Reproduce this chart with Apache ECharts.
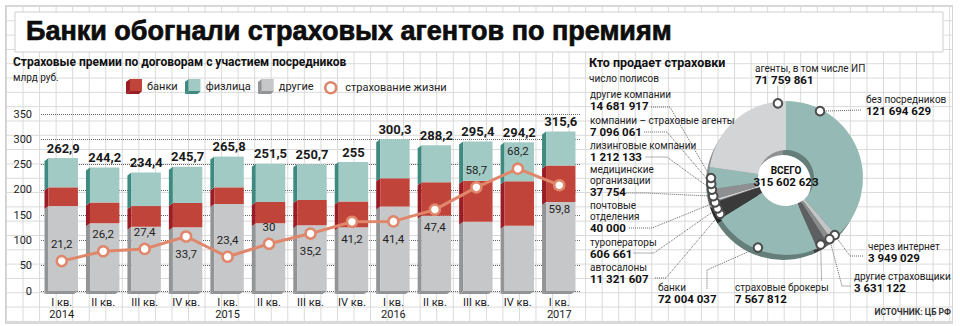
<!DOCTYPE html>
<html>
<head>
<meta charset="utf-8">
<script src="https://cdn.jsdelivr.net/npm/echarts@6/dist/echarts.min.js"></script>
<style>
  html, body { margin: 0; padding: 0; background: #fff; }
  #wrap { position: relative; width: 960px; height: 326px; overflow: hidden; }
  #paper {
    position: absolute; left: 5px; top: 5px; width: 948px; height: 319px;
    box-sizing: border-box;
    border-left: 1px solid #cfcfcf; border-top: 1px solid #d6d6d6;
    border-right: 1px solid #d6d6d6; border-bottom: 3px solid #d9d9d9;
    background-image:
      linear-gradient(to right, #d9d9d9 1px, transparent 1px),
      linear-gradient(to bottom, #d9d9d9 1px, transparent 1px);
    background-size: 16.55px 14.32px;
    background-position: 0 0;
  }
  #chart { position: absolute; left: 0; top: 0; width: 960px; height: 326px; }
</style>
</head>
<body>
<div id="wrap"><div id="paper"></div><div id="chart"></div></div>
<script>
// ---- Premiums by quarter, bn rubles ----
const quarters = ['I', 'II', 'III', 'IV', 'I', 'II', 'III', 'IV', 'I', 'II', 'III', 'IV', 'I'];
const years    = ['2014', '', '', '', '2015', '', '', '', '2016', '', '', '', '2017'];
const others      = [168, 134, 127, 126, 172, 134, 130, 126, 167, 149, 137, 129, 176];            // другие
const banks       = [37, 41, 41, 48, 33, 42, 50, 51, 56, 66, 81, 88, 72];                         // банки
const individuals = [57.9, 69.2, 66.4, 71.7, 60.8, 75.5, 70.7, 78, 77.3, 73.2, 77.4, 77.2, 67.6]; // физлица
const lifeInsurance = [21.2, 26.2, 27.4, 33.7, 23.4, 30, 35.2, 41.2, 41.4, 47.4, 58.7, 68.2, 59.8];

// ---- Who sells policies, number of policies ----
const channelNames = [
  'без посредников', 'через интернет', 'другие страховщики', 'страховые брокеры', 'банки',
  'автосалоны', 'туроператоры', 'почтовые\nотделения', 'медицинские\nорганизации',
  'лизинговые компании', 'компании – страховые агенты', 'другие компании', 'агенты, в том числе ИП'
];
const channelPolicies = [
  121694629, 3949029, 3631122, 7567812, 72004037,
  11321607, 606661, 40000, 37754,
  1212133, 7096061, 14681917, 71759861
];

// ---- styles ----
const FONT = 'Roboto, "Noto Sans", sans-serif';
const LIFE_COLOR = '#e0866a';
const segStyle = {
  'другие':  { front: '#c6c7c9', side: '#929496' },
  'банки':   { front: '#c1443b', side: '#9a1c25' },
  'физлица': { front: '#a2cac5', side: '#3f8a80' }
};
const lifeLabelSide = ['top', 'top', 'top', 'bottom', 'top', 'top', 'bottom', 'bottom', 'bottom', 'bottom', 'top', 'top', 'bottom'];
const sliceColors = [
  '#95b9b4', '#c4c5c6', '#8b8c8d', '#5e5f60', '#95b9b4',
  '#3a3a3a', '#6d6d6d', '#8a8a8a', '#a0a0a0',
  '#d9d9d9', '#8e8f90', '#95b9b4', '#d3d4d6'
];
const PIE_C = [786, 178];
const PIE_R = [28, 77];
// label placement around the donut: text corner, marker angle on the rim, leader bends
const pieLabelSpots = [
  { x: 866, y: 94,  angle: 27,    line: [[862, 110]] },
  { x: 868, y: 241, angle: 139.5, line: [[850, 256], [863, 256]] },
  { x: 854, y: 271, angle: 144.5, line: [[842, 286], [851, 286]] },
  { x: 735, y: 282, angle: 152.5, line: [[821.6, 281]] },
  { x: 658, y: 282, angle: 202,   line: [[707, 270], [707, 289]] },
  { x: 590, y: 262, angle: 241.5, line: [[666, 278], [655, 278]] },
  { x: 590, y: 237, angle: 246,   line: [[654, 253], [633, 253]] },
  { x: 590, y: 200, angle: 251,   line: [[652, 228], [628, 228]] },
  { x: 590, y: 164, angle: 256,   line: [[645, 193], [616, 193]] },
  { x: 590, y: 140, angle: 261,   line: [[667, 157], [645, 157]] },
  { x: 590, y: 115, angle: 265.5, line: [[667, 132], [644, 132]] },
  { x: 590, y: 89,  angle: 270,   line: [[670, 107], [650, 107]] },
  { x: 755, y: 63,  angle: 353.8, line: [[777.7, 86]] }
];

// ---- helpers ----
function fmtDec(v) { return String(Math.round(v * 10) / 10).replace('.', ','); }
function fmtInt(n) { return String(n).replace(/\B(?=(\d{3})+(?!\d))/g, ' '); }
function darken(hex, f) {
  const n = parseInt(hex.slice(1), 16);
  const r = Math.round(((n >> 16) & 255) * f), g = Math.round(((n >> 8) & 255) * f), b = Math.round((n & 255) * f);
  return 'rgb(' + r + ',' + g + ',' + b + ')';
}
function rimPoint(angle) {
  const a = angle * Math.PI / 180, r = PIE_R[1] - 2;
  return [PIE_C[0] + r * Math.sin(a), PIE_C[1] - r * Math.cos(a)];
}
function cubeIcon(front, side) {
  const svg = '<svg xmlns="http://www.w3.org/2000/svg" width="16" height="15" viewBox="0 0 16 15">' +
    '<polygon points="4,0 4,12 0,15 0,3" fill="' + side + '"/>' +
    '<polygon points="4,12 16,12 13,15 0,15" fill="' + side + '"/>' +
    '<rect x="4" y="0" width="12" height="12" fill="' + front + '"/></svg>';
  return 'image://data:image/svg+xml;charset=utf-8,' + encodeURIComponent(svg);
}

const categories = quarters.map((q, i) => q + ' кв.' + (years[i] ? '\n' + years[i] : ''));

// stacked segments: [category, base, top]
const layers = [['другие', others], ['банки', banks], ['физлица', individuals]];
const running = others.map(() => 0);
const segSeries = layers.map(([name, vals], li) => {
  const data = vals.map((v, i) => {
    const base = running[i];
    running[i] = base + v;
    return [i, base, running[i]];
  });
  const st = segStyle[name];
  const isBottom = li === 0, isTop = li === layers.length - 1;
  return {
    name: name,
    type: 'custom',
    itemStyle: { color: st.front },
    encode: { x: 0, y: [1, 2] },
    data: data,
    z: 3,
    renderItem: function (params, api) {
      const ci = api.value(0);
      const top = api.coord([ci, api.value(2)]);
      const base = api.coord([ci, api.value(1)]);
      const band = api.size([1, 0])[0];
      const w = band * 0.71;
      const xl = top[0] - w / 2 + 1.5, xr = xl + w;
      const dx = 4, dy = 3;
      const kids = [
        { type: 'polygon', shape: { points: [[xl, top[1]], [xl, base[1]], [xl - dx, base[1] + dy], [xl - dx, top[1] + dy]] }, style: { fill: st.side } }
      ];
      if (isBottom) {
        kids.push({ type: 'polygon', shape: { points: [[xl, base[1]], [xr, base[1]], [xr - dx, base[1] + dy], [xl - dx, base[1] + dy]] }, style: { fill: st.side } });
      }
      kids.push({ type: 'rect', shape: { x: xl, y: top[1], width: w, height: base[1] - top[1] }, style: { fill: st.front } });
      if (isTop) {
        kids.push({
          type: 'text', x: (xl + xr) / 2, y: top[1] - 10,
          style: { text: fmtDec(api.value(2)), fill: '#1a1a1a', font: 'bold 13px ' + FONT, align: 'center', verticalAlign: 'middle' }
        });
      }
      return { type: 'group', children: kids };
    }
  };
});

const lifeSeries = {
  name: 'страхование жизни',
  type: 'line',
  xAxisIndex: 0,
  yAxisIndex: 1,
  z: 5,
  data: lifeInsurance.map((v, i) => ({
    value: v,
    label: { position: lifeLabelSide[i], distance: i === lifeInsurance.length - 1 ? 12 : 5 }
  })),
  symbol: 'circle',
  symbolSize: 10,
  lineStyle: { color: LIFE_COLOR, width: 3 },
  itemStyle: { color: '#fff', borderColor: LIFE_COLOR, borderWidth: 2.5 },
  label: {
    show: true, fontSize: 11.5, color: '#222', fontFamily: FONT,
    formatter: p => fmtDec(p.value)
  }
};

const totalPolicies = channelPolicies.reduce((a, b) => a + b, 0);
const pieData = channelNames.map((n, i) => ({ name: n, value: channelPolicies[i], itemStyle: { color: sliceColors[i] } }));

const pieSeries = [
  { // hole backdrop
    type: 'pie', silent: true, center: PIE_C, radius: [0, PIE_R[0] + 1],
    label: { show: false }, labelLine: { show: false },
    data: [{ value: 1, itemStyle: { color: '#fff' } }]
  },
  { // extruded underside of the ring
    type: 'pie', silent: true, center: [PIE_C[0] - 3, PIE_C[1] + 5], radius: PIE_R,
    startAngle: 90, clockwise: true,
    label: { show: false }, labelLine: { show: false },
    data: channelPolicies.map((v, i) => ({ value: v, itemStyle: { color: darken(sliceColors[i], 0.68) } }))
  },
  { // ring
    type: 'pie', center: PIE_C, radius: PIE_R,
    startAngle: 90, clockwise: true, avoidLabelOverlap: false,
    data: pieData,
    label: {
      show: true, position: 'outer', alignTo: 'none',
      formatter: p => '{n|' + p.name + '}\n{v|' + fmtInt(p.value) + '}',
      rich: {
        n: { fontSize: 10, lineHeight: 11, color: '#222', fontFamily: FONT },
        v: { fontSize: 11.5, lineHeight: 12, fontWeight: 'bold', color: '#111', fontFamily: FONT }
      }
    },
    labelLine: { show: true, lineStyle: { color: '#666', width: 1, type: 'dotted' } },
    labelLayout: function (params) {
      const s = pieLabelSpots[params.dataIndex];
      return {
        x: s.x, y: s.y, align: 'left', verticalAlign: 'top',
        labelLinePoints: [rimPoint(s.angle)].concat(s.line)
      };
    }
  }
];

const graphics = [
  { type: 'rect', z: 1, shape: { x: 15, y: 12, width: 928, height: 40 }, style: { fill: '#fff', stroke: '#cfcfcf', lineWidth: 1 } },
  { type: 'text', z: 100, x: PIE_C[0], y: PIE_C[1] - 8, style: { text: 'ВСЕГО', font: 'bold 10px ' + FONT, fill: '#111', align: 'center', verticalAlign: 'middle' } },
  { type: 'text', z: 100, x: PIE_C[0], y: PIE_C[1] + 4, style: { text: fmtInt(totalPolicies), font: 'bold 11.5px ' + FONT, fill: '#111', align: 'center', verticalAlign: 'middle' } }
].concat(pieLabelSpots.map(s => {
  const p = rimPoint(s.angle);
  return { type: 'circle', z: 100, shape: { cx: p[0], cy: p[1], r: 4.3 }, style: { fill: '#fff', stroke: '#4d4d4d', lineWidth: 2 } };
}));

const option = {
  animation: false,
  textStyle: { fontFamily: FONT },
  title: [
    { text: 'Банки обогнали страховых агентов по премиям', left: 26, top: 17, padding: 0, z: 10,
      textStyle: { fontFamily: '"Liberation Sans", Arial, sans-serif', fontWeight: 'bold', fontSize: 27, color: '#0d0d0d',
        textBorderColor: '#0d0d0d', textBorderWidth: 0.7 } },
    { text: 'Страховые премии по договорам с участием посредников', left: 13, top: 56, padding: 0,
      textStyle: { fontFamily: FONT, fontSize: 12, fontWeight: 'bold', color: '#111' } },
    { text: 'млрд руб.', left: 13, top: 72, padding: 0,
      textStyle: { fontFamily: FONT, fontSize: 10, fontWeight: 'normal', color: '#222' } },
    { text: 'Кто продает страховки', left: 589, top: 56, padding: 0,
      textStyle: { fontFamily: FONT, fontSize: 12.5, fontWeight: 'bold', color: '#111' } },
    { text: 'число полисов', left: 589, top: 73, padding: 0,
      textStyle: { fontFamily: FONT, fontSize: 10, fontWeight: 'normal', color: '#222' } },
    { text: 'ИСТОЧНИК: ЦБ РФ', right: 9, top: 307, padding: 0,
      textStyle: { fontFamily: FONT, fontSize: 8.5, fontWeight: 'bold', color: '#333' } }
  ],
  legend: [
    { left: 126, top: 79, padding: 0, itemWidth: 16, itemHeight: 15, itemGap: 7, selectedMode: false,
      textStyle: { fontSize: 11, color: '#222', fontFamily: FONT },
      data: ['банки', 'физлица', 'другие'].map(n => ({ name: n, icon: cubeIcon(segStyle[n].front, segStyle[n].side) })) },
    { left: 324, top: 81, padding: 0, itemWidth: 11, itemHeight: 11, selectedMode: false,
      textStyle: { fontSize: 11, color: '#222', fontFamily: FONT, padding: [0, 0, 0, 4] },
      data: [{ name: 'страхование жизни', icon: 'circle', itemStyle: { color: '#fff', borderColor: LIFE_COLOR, borderWidth: 2.5 } }] }
  ],
  grid: { left: 41, right: 380, top: 114, bottom: 35 },
  xAxis: {
    type: 'category', data: categories,
    axisLine: { show: false }, axisTick: { show: false }, splitLine: { show: false },
    axisLabel: { fontSize: 11, color: '#222', lineHeight: 12, margin: 5, fontFamily: FONT }
  },
  yAxis: [
    { type: 'value', min: 0, max: 350, interval: 50,
      axisLine: { show: false }, axisTick: { show: false },
      axisLabel: { fontSize: 11, color: '#222', margin: 9, fontFamily: FONT },
      splitLine: { lineStyle: { type: 'dotted', color: '#666', width: 1 } } },
    { type: 'value', min: 6, max: 96, show: false, splitLine: { show: false } }
  ],
  graphic: { elements: graphics },
  series: segSeries.concat([lifeSeries]).concat(pieSeries)
};

const chart = echarts.init(document.getElementById('chart'), null, { renderer: 'svg', width: 960, height: 326 });
chart.setOption(option);
</script>
</body>
</html>
